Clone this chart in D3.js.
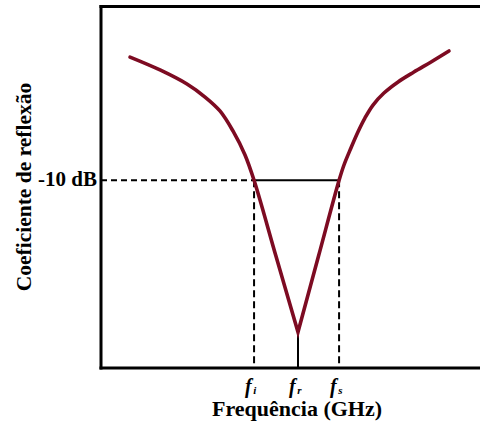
<!DOCTYPE html>
<html>
<head>
<meta charset="utf-8">
<script src="https://cdn.jsdelivr.net/npm/d3@7/dist/d3.min.js"></script>
<style>
  html, body { margin: 0; padding: 0; background: #fff; }
  svg { display: block; }
  text { font-family: "Liberation Serif", "Times New Roman", serif; font-weight: bold; fill: #000; }
</style>
</head>
<body>
<svg id="chart" width="480" height="424"></svg>
<script>
// Reflection coefficient (dB) versus frequency (GHz)
// Falling branch, from the low end down to the resonance minimum
const freqLeft = [1.154, 1.313, 1.456, 1.552, 1.631, 1.700, 1.764, 1.812, 1.928, 2.045];
const dbLeft   = [-2.91, -3.65, -4.46, -5.21, -6.01, -7.16, -8.54, -10.0, -14.36, -18.73];
// Rising branch, from the resonance minimum up to the high end
const freqRight = [2.045, 2.154, 2.263, 2.289, 2.326, 2.363, 2.400, 2.443, 2.501, 2.576, 2.660, 2.751, 2.846];
const dbRight   = [-18.73, -14.36, -10.0, -9.12, -8.14, -7.22, -6.42, -5.67, -4.98, -4.34, -3.77, -3.19, -2.56];

// Marked frequencies: lower (f_i), resonance (f_r), upper (f_s)
const markerSubs  = ["i", "r", "s"];
const markerFreqs = [1.812, 2.045, 2.263];
const markerDb    = [-10.0, -18.73, -10.0];

const thresholdDb = -10;
const yTickLabels = ["-10 dB"];
const xTitle = "Frequência (GHz)";
const yTitle = "Coeficiente de reflexão";

const svg = d3.select("#chart");
const plotLeft = 101, plotRight = 480, plotTop = 6.5, plotBottom = 368;

const x = d3.scaleLinear().domain([1, 3]).range([plotLeft, plotLeft + 377]);
const y = d3.scaleLinear().domain([0, -20.8]).range([plotTop, plotBottom]);

const lineColor = "#7d0b22";

// Guide lines at the -10 dB threshold
const g = svg.append("g");
const fi = markerFreqs[0], fr = markerFreqs[1], fs = markerFreqs[2];

// dashed threshold from the axis to f_i
g.append("line")
  .attr("x1", plotLeft).attr("x2", x(fi))
  .attr("y1", y(thresholdDb)).attr("y2", y(thresholdDb))
  .attr("stroke", "#000").attr("stroke-width", 2).attr("stroke-dasharray", "6,4");
// solid bandwidth segment f_i..f_s
g.append("line")
  .attr("x1", x(fi)).attr("x2", x(fs))
  .attr("y1", y(thresholdDb)).attr("y2", y(thresholdDb))
  .attr("stroke", "#000").attr("stroke-width", 2);
// dashed drops at f_i and f_s
[fi, fs].forEach(f => {
  g.append("line")
    .attr("x1", x(f)).attr("x2", x(f))
    .attr("y1", y(thresholdDb)).attr("y2", plotBottom)
    .attr("stroke", "#000").attr("stroke-width", 2).attr("stroke-dasharray", "7,4");
});
// solid drop at resonance
g.append("line")
  .attr("x1", x(fr)).attr("x2", x(fr))
  .attr("y1", y(markerDb[1])).attr("y2", plotBottom)
  .attr("stroke", "#000").attr("stroke-width", 2);

// Response curve: two smooth branches meeting in a sharp notch
const line = d3.line().x(d => x(d[0])).y(d => y(d[1])).curve(d3.curveCatmullRom.alpha(0.5));
const leftPts = freqLeft.map((f, i) => [f, dbLeft[i]]);
const rightPts = freqRight.map((f, i) => [f, dbRight[i]]);
const pathD = line(leftPts) + line(rightPts).replace(/^M/, "L");
svg.append("path")
  .attr("d", pathD)
  .attr("fill", "none")
  .attr("stroke", lineColor)
  .attr("stroke-width", 3.6)
  .attr("stroke-linejoin", "miter")
  .attr("stroke-linecap", "round");

// Frame: left axis, bottom axis, top edge
svg.append("line").attr("x1", plotLeft).attr("x2", plotLeft).attr("y1", plotTop - 1.5).attr("y2", plotBottom + 1.5)
  .attr("stroke", "#000").attr("stroke-width", 3);
svg.append("line").attr("x1", plotLeft - 1.5).attr("x2", plotRight).attr("y1", plotBottom).attr("y2", plotBottom)
  .attr("stroke", "#000").attr("stroke-width", 3);
svg.append("line").attr("x1", plotLeft - 1.5).attr("x2", plotRight).attr("y1", plotTop).attr("y2", plotTop)
  .attr("stroke", "#000").attr("stroke-width", 3);

// Y tick label
svg.append("text")
  .attr("x", plotLeft - 4).attr("y", y(thresholdDb) + 6)
  .attr("text-anchor", "end")
  .attr("font-size", 21)
  .text(yTickLabels[0]);

// X marker labels f_i, f_r, f_s
markerFreqs.forEach((f, i) => {
  const t = svg.append("text")
    .attr("x", x(f) - 9).attr("y", 393)
    .attr("font-size", 20);
  t.append("tspan").attr("font-style", "italic").text("f");
  t.append("tspan").attr("font-size", 11).attr("font-style", "italic")
    .attr("dx", 1.5).attr("dy", 1).text(markerSubs[i]);
});

// Axis titles
svg.append("text")
  .attr("x", 297).attr("y", 416)
  .attr("text-anchor", "middle")
  .attr("font-size", 22)
  .text(xTitle);

svg.append("text")
  .attr("transform", "translate(31,187) rotate(-90)")
  .attr("text-anchor", "middle")
  .attr("font-size", 21.5)
  .text(yTitle);
</script>
</body>
</html>
